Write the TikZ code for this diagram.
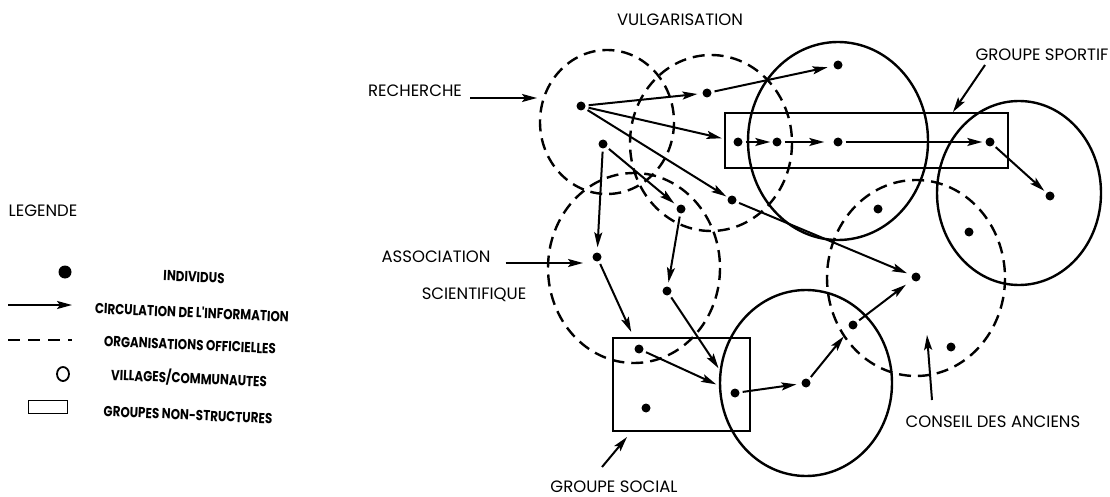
\documentclass[tikz,border=0pt]{standalone}
\usepackage{fontspec}
\setmainfont{Poppins}
\newfontfamily\legfont{Poppins}[FakeStretch=0.82]
\usetikzlibrary{arrows.meta,calc,shapes.geometric}

\begin{document}
\begin{tikzpicture}[x=1pt,y=-1pt,
  dot/.style={circle,fill=black,inner sep=0pt,minimum size=9pt},
  arr/.style={line width=2pt,-{Stealth[length=15pt,width=8pt,inset=3pt]}},
  flow/.style={arr,shorten <=3pt,shorten >=#1},
  flow/.default=3pt,
  official/.style={line width=2.4pt,dash pattern=on 12pt off 7pt},
  village/.style={line width=2.4pt},
  group/.style={line width=2.6pt},
  label/.style={font=\fontsize{16.5}{18}\selectfont,inner sep=0pt},
  legtext/.style={font=\legfont\bfseries\fontsize{14.5}{16}\selectfont,inner sep=0pt,rotate=-2.5},
]
\useasboundingbox (0,0) rectangle (1110,497);

% --- official organisations (dashed) ---
\draw[official] (607,122) ellipse [x radius=67, y radius=72];
\draw[official] (711,143) ellipse [x radius=81, y radius=88];
\draw[official] (634,268) ellipse [x radius=86, y radius=95];
\draw[official] (916,278) ellipse [x radius=89, y radius=98];

% --- villages / communities (solid) ---
\draw[village] (838,141) ellipse [x radius=90, y radius=99];
\draw[village] (1019,193) ellipse [x radius=82, y radius=92];
\draw[village] (806,383) ellipse [x radius=86, y radius=93];

% --- non-structured groups ---
\draw[group] (725,113) rectangle (1008,168);
\draw[group] (613,338) rectangle (750,431);

% --- individuals ---
\node[dot] (d1) at (581,106) {};
\node[dot] (d2) at (603,144) {};
\node[dot] (d3) at (707,93) {};
\node[dot] (d4) at (838,65) {};
\node[dot] (d5) at (738,142) {};
\node[dot] (d6) at (777,142) {};
\node[dot] (d7) at (838,142) {};
\node[dot] (d8) at (990,142) {};
\node[dot] (d9) at (1050,196) {};
\node[dot] (d10) at (732,200) {};
\node[dot] (d11) at (878,209) {};
\node[dot] (d12) at (969,232) {};
\node[dot] (d13) at (681,209) {};
\node[dot] (d14) at (597,257) {};
\node[dot] (d15) at (667,291) {};
\node[dot] (d16) at (639,349) {};
\node[dot] (d17) at (646,408) {};
\node[dot] (d18) at (735,393) {};
\node[dot] (d19) at (806,383) {};
\node[dot] (d20) at (853,325) {};
\node[dot] (d21) at (916,277) {};
\node[dot] (d22) at (951,347) {};

% --- information flow ---
\draw[flow=5pt] (d1) -- (d3);
\draw[flow=6pt] (d3) -- (d4);
\draw[flow=12pt] (d1) -- (d5);
\draw[flow=2pt] (d1) -- (d10);
\draw[flow=2pt] (d5) -- (d6);
\draw[flow=9pt] (d6) -- (d7);
\draw[flow=3pt] (d7) -- (d8);
\draw[flow=3pt] (d8) -- (d9);
\draw[flow=5pt] (d2) -- (d14);
\draw[flow=4pt] (d2) -- (d13);
\draw[flow=4pt] (d13) -- (d15);
\draw[flow=14pt] (d14) -- (d16);
\draw[flow=25pt] (d15) -- (d18);
\draw[flow=16pt] (d16) -- (d18);
\draw[flow=5pt] (d18) -- (d19);
\draw[flow=10pt] (d19) -- (d20);
\draw[flow=8pt] (d20) -- (d21);
\draw[flow=5pt] (d10) -- (d21);

% --- labels ---
\node[label] (lvulg) at (680,20) {VULGARISATION};
\node[label] (lrech) at (415,91) {RECHERCHE};
\node[label] (lsport) at (1042,55) {GROUPE SPORTIF};
\node[label] (lassoc) at (436,257) {ASSOCIATION};
\node[label] (lscien) at (474,295) {SCIENTIFIQUE};
\node[label] (lsocial) at (614,487) {GROUPE SOCIAL};
\node[label] (lconseil) at (993,422) {CONSEIL DES ANCIENS};

\coordinate (rechtip) at (537,98);
\coordinate (assoctip) at (583,263);
\coordinate (sporttail) at (985,65);
\coordinate (sporttip) at (953,112);
\coordinate (socialtail) at (602,467);
\coordinate (socialtip) at (627,437);
\coordinate (conseiltail) at (932,400);
\coordinate (conseiltip) at (927,335);

\draw[arr] ($(lrech.east)+(8,7)$) -- (rechtip);
\draw[arr] ($(lassoc.east)+(15,6)$) -- (assoctip);
\draw[arr] (sporttail) -- (sporttip);
\draw[arr] (socialtail) -- (socialtip);
\draw[arr] (conseiltail) -- (conseiltip);

% --- legend ---
\node[label] (lleg) at (43,211) {LEGENDE};
\node[dot,minimum size=13pt] (kdot) at (65,272) {};
\node[legtext] (tdot) at (194,277) {INDIVIDUS};
\coordinate (karrA) at (8,305);
\coordinate (karrB) at (72,305);
\draw[arr] (karrA) -- (karrB);
\node[legtext] (tarr) at (192,312) {CIRCULATION DE L'INFORMATION};
\coordinate (kdashA) at (8,340);
\coordinate (kdashB) at (72,340);
\draw[line width=1.8pt,dash pattern=on 12pt off 8pt] (kdashA) -- (kdashB);
\node[legtext] (tdash) at (190,345) {ORGANISATIONS OFFICIELLES};
\node[draw,ellipse,line width=1.8pt,inner sep=0pt,minimum width=12pt,minimum height=14pt] (kcirc) at (63,374) {};
\node[legtext] (tcirc) at (189,378) {VILLAGES/COMMUNAUTES};
\node[draw,line width=1.8pt,inner sep=0pt,minimum width=39pt,minimum height=13pt] (krect) at (48,407) {};
\node[legtext] (trect) at (188,415) {GROUPES NON-STRUCTURES};
\end{tikzpicture}
\end{document}
